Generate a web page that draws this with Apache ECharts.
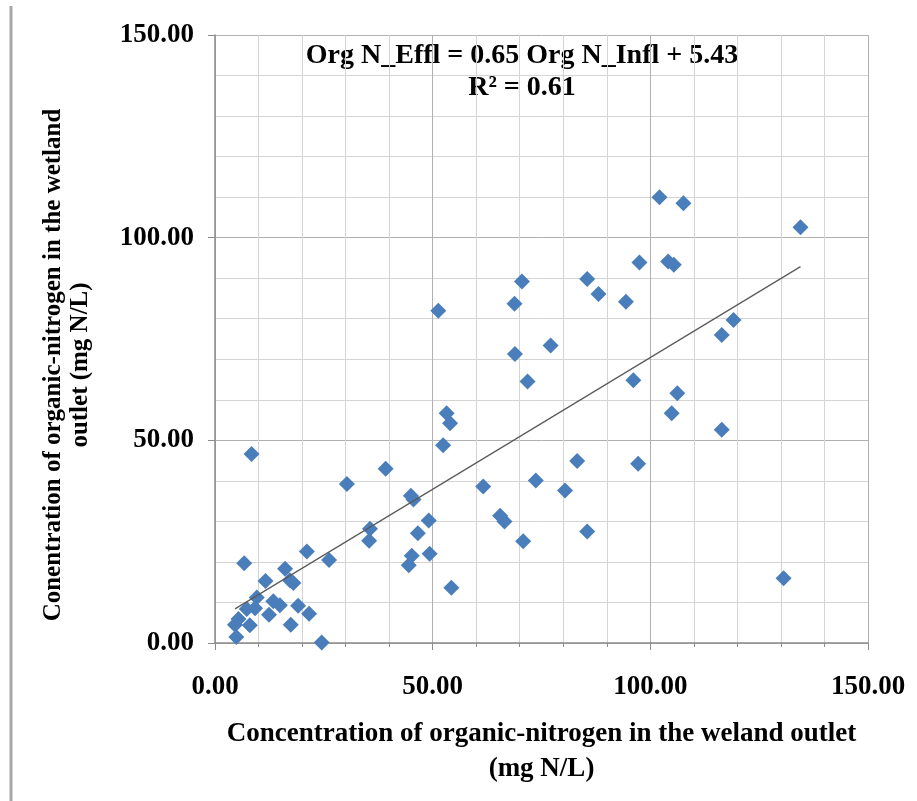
<!DOCTYPE html>
<html><head><meta charset="utf-8">
<script src="https://cdn.jsdelivr.net/npm/echarts@6/dist/echarts.min.js"></script>
<style>html,body{margin:0;padding:0;background:#fff}#c{width:917px;height:801px}</style>
</head><body><div id="c"></div><script>
// Organic-N: inflow (x) vs outflow (y), mg N/L
const inflowX = [4.9, 4.6, 5.4, 8.0, 7.3, 9.2, 9.6, 11.6, 12.4, 13.4, 14.9, 16.1, 17.2, 18.0, 17.4, 19.1, 21.6, 21.1, 24.5, 26.2, 6.7, 8.4,
  30.3, 39.2, 35.6, 35.4, 45.0, 45.6, 49.1, 46.6, 49.3, 45.2, 44.5, 54.3, 52.4, 53.2, 54.0, 51.3, 61.6, 65.5, 66.5, 70.8, 73.7, 80.4, 83.2, 85.5, 68.8, 70.5, 68.9, 71.8, 77.1,
  85.5, 88.1, 94.4, 97.5, 104.1, 105.4, 102.1, 107.6, 96.1, 106.2, 104.9, 97.2, 116.4, 116.4, 119.1, 134.5, 130.6];
const outflowY = [1.5, 4.5, 5.9, 4.4, 8.4, 8.6, 11.2, 15.3, 7.0, 10.3, 9.3, 18.3, 15.5, 14.8, 4.5, 9.2, 7.2, 22.6, 0.1, 20.5, 19.7, 46.6,
  39.2, 43.0, 28.2, 25.2, 36.3, 35.4, 30.2, 27.1, 22.0, 21.5, 19.2, 13.6, 48.8, 56.7, 54.2, 82.0, 38.6, 31.4, 30.0, 25.1, 40.1, 37.6, 44.9, 27.5, 83.7, 89.2, 71.3, 64.5, 73.4,
  89.8, 86.1, 84.2, 93.9, 94.1, 93.3, 110.0, 108.5, 64.8, 61.6, 56.7, 44.2, 52.6, 76.0, 79.7, 102.6, 16.0];
const trendSlope = 0.65, trendIntercept = 5.43;
const trendX = [4.6, 134.5];
const equationText = 'Org N_Effl = 0.65 Org N_Infl + 5.43';
const r2Text = 'R² = 0.61';
const xName = 'Concentration of organic-nitrogen in the weland outlet\n(mg N/L)';
const yName = 'Conentration of organic-nitrogen in the wetland\noutlet (mg N/L)';

const FONT = 'Liberation Serif';
const pts = inflowX.map((x, i) => [x, outflowY[i]]);
const trend = trendX.map(x => [x, trendSlope * x + trendIntercept]);

const chart = echarts.init(document.getElementById('c'), null, {renderer: 'canvas'});
chart.setOption({
  animation: false,
  backgroundColor: '#fff',
  grid: {left: 215, right: 49, top: 35, bottom: 158, containLabel: false},
  xAxis: {
    type: 'value', min: 0, max: 150, interval: 50,
    name: xName, nameLocation: 'middle', nameGap: 74,
    nameTextStyle: {fontFamily: FONT, fontWeight: 'bold', fontSize: 27, color: '#000', lineHeight: 35, verticalAlign: 'top'},
    axisLine: {show: true, lineStyle: {color: '#8c8c8c', width: 1.5}},
    axisTick: {show: true, length: 7, lineStyle: {color: '#8c8c8c'}},
    minorTick: {show: true, splitNumber: 5, length: 4, lineStyle: {color: '#8c8c8c'}},
    axisLabel: {fontFamily: FONT, fontWeight: 'bold', fontSize: 27, color: '#000', margin: 31, formatter: v => v.toFixed(2)},
    splitLine: {show: true, lineStyle: {color: '#b0b0b0', width: 1}},
    minorSplitLine: {show: true, lineStyle: {color: '#d4d4d4', width: 1}}
  },
  yAxis: {
    type: 'value', min: 0, max: 150, interval: 50,
    axisLine: {show: true, lineStyle: {color: '#8c8c8c', width: 1.5}},
    axisTick: {show: true, length: 7, lineStyle: {color: '#8c8c8c'}},
    minorTick: {show: false},
    axisLabel: {fontFamily: FONT, fontWeight: 'bold', fontSize: 27, color: '#000', margin: 21, formatter: v => v.toFixed(2)},
    splitLine: {show: true, lineStyle: {color: '#b0b0b0', width: 1}},
    minorSplitLine: {show: true, lineStyle: {color: '#d4d4d4', width: 1}}
  },
  series: [
    {type: 'scatter', data: pts, symbol: 'diamond', symbolSize: 16, itemStyle: {color: '#4a7ebb', opacity: 1}, z: 3},
    {type: 'line', data: trend, symbol: 'none', lineStyle: {color: '#5a5a5a', width: 1.2}, z: 4, silent: true}
  ],
  graphic: [
    {type: 'text', x: 522, y: 56, style: {text: equationText, fontFamily: FONT, fontWeight: 'bold', fontSize: 28, fill: '#000', align: 'center', verticalAlign: 'middle'}},
    {type: 'text', x: 522, y: 88, style: {text: r2Text, fontFamily: FONT, fontWeight: 'bold', fontSize: 28, fill: '#000', align: 'center', verticalAlign: 'middle'}},
    {type: 'text', x: 67, y: 365, rotation: Math.PI / 2, style: {text: yName, fontFamily: FONT, fontWeight: 'bold', fontSize: 25, lineHeight: 27, fill: '#000', align: 'center', verticalAlign: 'middle'}},
    {type: 'line', shape: {x1: 11, y1: 6, x2: 11, y2: 801}, style: {stroke: '#a8a8a8', lineWidth: 3}}
  ]
});
</script></body></html>
